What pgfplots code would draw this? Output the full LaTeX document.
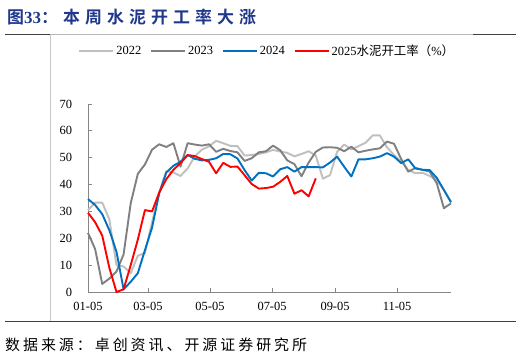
\documentclass[border=0pt]{standalone}
\usepackage{fontspec}
\setmainfont{Liberation Serif}
\newfontfamily\cjk{Noto Sans CJK SC}
\newfontfamily\cjksrc{Noto Sans CJK SC}[LetterSpace=20]
\newfontfamily\cjktitle{Noto Sans CJK SC Bold}[LetterSpace=30]
\usepackage{pgfplots}
\usepackage{pgfplotstable}
\pgfplotsset{compat=1.18}
\definecolor{titleblue}{RGB}{32,56,140}
\definecolor{c22}{RGB}{191,191,191}
\definecolor{c23}{RGB}{128,128,128}
\definecolor{c24}{RGB}{0,112,192}
\definecolor{c25}{RGB}{255,0,0}
\definecolor{axgray}{RGB}{134,134,134}

\pgfplotstableread{
k y22 y23 y24
0 30.5 22 34.6
1 33.3 16 32.4
2 33.3 3 29
3 27 5 23
4 10 7.6 15
5 9.5 14 1
6 7 33 3.8
7 13.5 44 7
8 14.5 47.5 15.6
9 26 53 24
10 37 55 36.7
11 45 54 44.5
12 44.5 55.4 47
13 43.2 46.7 48.5
14 46 55.4 51
15 50.5 54.9 49.6
16 53 54.5 49
17 54.2 55 49.2
18 56.3 52.2 49.8
19 55.4 53.3 51.4
20 54.4 52.5 51.3
21 54.3 52 49.7
22 50.8 48.8 45.4
23 51 49.8 41.5
24 51.4 52 44.4
25 52 52.4 44.2
26 52.9 54.5 43
27 52.3 52.8 45.7
28 51.8 49 46.5
29 50.5 47.6 44.8
30 51.4 43.1 46.5
31 52.4 48.2 46.5
32 50.8 52.2 46.5
33 42.2 53.8 46.4
34 43.5 53.9 48.2
35 52.2 53.7 50.4
36 54.9 52.4 46.6
37 53.1 54.1 43
38 54.3 52 49.4
39 55.6 52.6 49.4
40 58.3 53.1 49.8
41 58.3 53.5 50.4
42 53.9 56 51.7
43 51 55.2 50.4
44 48.5 49.5 48
45 45.4 44.8 49.4
46 44.2 46.2 46
47 44.4 45.5 45.5
48 43.2 44.8 45.4
49 41.7 40.5 42.5
50 38 31.2 38
51 33.6 33 33.4
}\dataA

\pgfplotstableread{
k y25
0 29.5
1 26
2 21
3 9
4 0
5 1
6 10
7 19.5
8 30.5
9 30
10 37
11 42
12 45.5
13 48
14 51
15 50.6
16 49.5
17 48.5
18 44.2
19 48.1
20 46.6
21 46.7
22 43.5
23 40.2
24 38.5
25 38.7
26 39.2
27 41
28 43.2
29 36.6
30 37.9
31 35.6
32 42.3
}\dataB

\begin{document}
\begin{tikzpicture}
\useasboundingbox (0bp,0bp) rectangle (522bp,360bp);
\fill[white] (0bp,0bp) rectangle (522bp,360bp);
\draw[line width=1bp, black!75] (5bp,325bp) -- (516bp,325bp);
\draw[line width=1bp, black!28] (50bp,325bp) -- (473bp,325bp);
\draw[black!22, line width=0.8bp] (50bp,325bp) -- (50bp,38bp);
\draw[line width=1bp, black!75] (5bp,38bp) -- (516bp,38bp);
\node[anchor=west, text=titleblue, inner sep=0pt] at (7bp,343bp)
  {\fontsize{17}{20}\selectfont{\cjktitle 图}{\bfseries 33}{\cjktitle ：本周水泥开工率大涨}};
\node[anchor=west, inner sep=0pt] at (5bp,15bp)
  {\cjksrc\fontsize{15}{18}\selectfont 数据来源：卓创资讯、开源证券研究所};
\begin{axis}[
  at={(88bp,68bp)}, anchor=south west,
  width=363bp, height=188bp, scale only axis,
  xmin=0, xmax=51, ymin=0, ymax=70,
  clip=false,
  axis x line*=bottom, axis y line*=left,
  axis line style={axgray, line width=0.9bp},
  tick align=inside, major tick length=4bp,
  tick style={axgray, line width=0.9bp},
  xtick={0,8.43,17.14,25.86,34.71,43.43},
  xticklabels={01-05,03-05,05-05,07-05,09-05,11-05},
  ytick={0,10,...,70},
  /pgf/number format/assume math mode=true,
  ticklabel style={font=\fontsize{12.5}{14}\selectfont},
  yticklabel style={xshift=-12.5bp},
  xticklabel style={yshift=-7bp},
  legend columns=4,
  legend style={at={(0.494,1.283)}, anchor=center, draw=none, fill=none,
    font=\fontsize{12.5}{14}\selectfont,
    /tikz/every even column/.append style={column sep=7bp},
    inner sep=0pt},
  legend image code/.code={\draw[#1] (0bp,0bp) -- (34bp,0bp);},
  every axis plot/.append style={line width=1.9bp, line join=round, mark=none},
]
\addplot[c22] table[x=k,y=y22] {\dataA};
\addplot[c23] table[x=k,y=y23] {\dataA};
\addplot[c24] table[x=k,y=y24] {\dataA};
\addplot[c25] table[x=k,y=y25] {\dataB};
\legend{2022,2023,2024,{2025{\cjk 水泥开工率（}\%{\cjk ）}}}
\end{axis}
\end{tikzpicture}
\end{document}
